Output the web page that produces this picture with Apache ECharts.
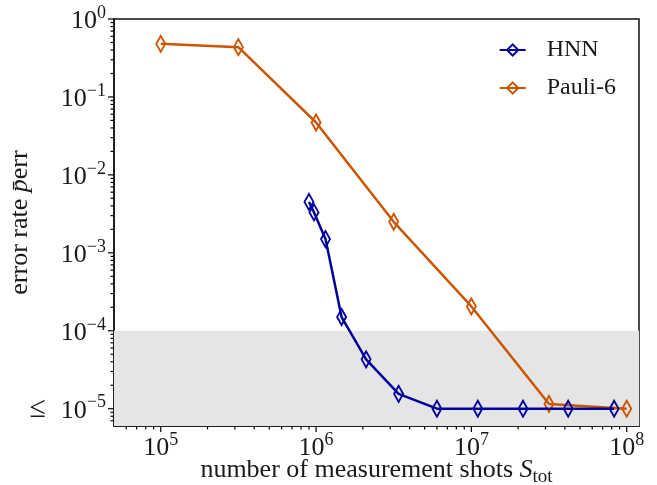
<!DOCTYPE html>
<html>
<head>
<meta charset="utf-8">
<script src="https://cdn.jsdelivr.net/npm/echarts@6/dist/echarts.min.js"></script>
<style>
  * { margin: 0; padding: 0; }
  body { background: #fff; }
  #chart { width: 657px; height: 485px; }
</style>
</head>
<body>
<div id="chart"></div>
<script>
var hnnShots = [9.0e5, 9.7e5, 1.15e6, 1.46e6, 2.1e6, 3.4e6, 6.0e6, 1.1e7, 2.15e7, 4.2e7, 8.3e7];
var hnnErr = [4.5e-3, 3.3e-3, 1.5e-3, 1.5e-4, 4.3e-5, 1.55e-5, 1e-5, 1e-5, 1e-5, 1e-5, 1e-5];
var pauliShots = [1e5, 3.16e5, 1e6, 3.16e6, 1e7, 3.16e7, 1e8];
var pauliErr = [0.48, 0.435, 0.047, 2.5e-3, 2.05e-4, 1.15e-5, 1e-5];

var xMin = 5e4, xMax = 1.2e8;
var yMin = 6e-6, yMax = 1;
var threshold = 1e-4;

var HNN_COLOR = '#00009c';
var PAULI_COLOR = '#cc5500';
var FONT = '"Liberation Serif", "DejaVu Serif", serif';
var TXT = '#1a1a1a';

function zip(a, b) {
  var out = [];
  for (var i = 0; i < a.length; i++) out.push([a[i], b[i]]);
  return out;
}

// minor ticks at 2..9 x 10^k, kept inside the axis range
function minorTicks(lo, hi) {
  var out = [];
  for (var e = Math.floor(Math.log10(lo)); e <= Math.ceil(Math.log10(hi)); e++) {
    for (var k = 2; k <= 9; k++) {
      var v = k * Math.pow(10, e);
      if (v > lo && v < hi) out.push(v);
    }
  }
  return out;
}
function majorTicks(lo, hi) {
  var out = [];
  for (var e = Math.ceil(Math.log10(lo)); e <= Math.floor(Math.log10(hi)); e++) {
    out.push(Math.pow(10, e));
  }
  return out;
}

var supRich = {
  b: { fontFamily: FONT, fontSize: 26, color: TXT, lineHeight: 30, verticalAlign: 'bottom' },
  le: { fontFamily: FONT, fontSize: 30, color: TXT, lineHeight: 30, verticalAlign: 'bottom' },
  s: { fontFamily: FONT, fontSize: 18, color: TXT, lineHeight: 16, verticalAlign: 'top' }
};

function expLabel(v) {
  var e = Math.round(Math.log10(v));
  var s = e < 0 ? '\u2212' + (-e) : '' + e;
  var pre = e === -5 ? '{le|\u2264  }' : '';
  return pre + '{b|10}{s|' + s + '}';
}

// tick marks drawn through the axes' own scales
function xTickSeries(vals, len) {
  return {
    type: 'custom', silent: true, z: 10, clip: false,
    encode: { x: 0, y: 1 },
    data: vals.map(function (v) { return [v, yMin]; }),
    renderItem: function (params, api) {
      var p = api.coord([api.value(0), yMin]);
      return { type: 'line', shape: { x1: p[0], y1: p[1], x2: p[0], y2: p[1] + len },
        style: { stroke: '#000', lineWidth: 1.2 } };
    }
  };
}
function yTickSeries(vals, len) {
  return {
    type: 'custom', silent: true, z: 10, clip: false,
    encode: { x: 0, y: 1 },
    data: vals.map(function (v) { return [xMin, v]; }),
    renderItem: function (params, api) {
      var p = api.coord([xMin, api.value(1)]);
      return { type: 'line', shape: { x1: p[0], y1: p[1], x2: p[0] - len, y2: p[1] },
        style: { stroke: '#000', lineWidth: 1.2 } };
    }
  };
}

var chart = echarts.init(document.getElementById('chart'));
chart.setOption({
  animation: false,
  backgroundColor: '#fff',
  grid: {
    left: 114, right: 18, top: 19, bottom: 59,
    containLabel: false, outerBoundsMode: 'none',
    show: true, borderColor: '#111', borderWidth: 1.5, backgroundColor: 'transparent'
  },
  legend: {
    data: ['HNN', 'Pauli-6'],
    orient: 'vertical',
    right: 36, top: 33,
    itemWidth: 26, itemHeight: 14, itemGap: 14,
    textStyle: { fontFamily: FONT, fontSize: 24, color: TXT, padding: [0, 0, 0, 16] }
  },
  xAxis: {
    type: 'log', min: xMin, max: xMax, logBase: 10,
    name: '{n|number of measurement shots }{i|S}{u|tot}',
    nameLocation: 'middle', nameGap: 31, nameMoveOverlap: false,
    nameTextStyle: {
      rich: {
        n: { fontFamily: FONT, fontSize: 26, color: TXT, lineHeight: 30, verticalAlign: 'top' },
        i: { fontFamily: FONT, fontSize: 26, fontStyle: 'italic', color: TXT, lineHeight: 30, verticalAlign: 'top' },
        u: { fontFamily: FONT, fontSize: 19, color: TXT, lineHeight: 19, verticalAlign: 'bottom' }
      }
    },
    axisLine: { show: true, onZero: false, lineStyle: { color: '#111', width: 1.5 } },
    axisTick: { show: false },
    splitLine: { show: false },
    axisLabel: {
      margin: 5, showMinLabel: false, showMaxLabel: false,
      formatter: expLabel, rich: supRich
    }
  },
  yAxis: {
    type: 'log', min: yMin, max: yMax, logBase: 10,
    name: '{t|error rate }{p|p\u0304}{t|err}',
    nameLocation: 'middle', nameGap: 81, nameRotate: 90, nameMoveOverlap: false,
    nameTextStyle: {
      rich: {
        t: { fontFamily: FONT, fontSize: 26, color: TXT },
        p: { fontFamily: FONT, fontSize: 26, fontStyle: 'italic', color: TXT }
      }
    },
    axisLine: { show: true, onZero: false, lineStyle: { color: '#111', width: 1.5 } },
    axisTick: { show: false },
    splitLine: { show: false },
    axisLabel: {
      margin: 8, showMinLabel: false,
      formatter: expLabel, rich: supRich
    }
  },
  series: [
    {
      name: 'HNN', type: 'line', z: 3,
      data: zip(hnnShots, hnnErr),
      symbol: 'diamond', symbolSize: [9, 16],
      lineStyle: { color: HNN_COLOR, width: 2.5 },
      itemStyle: { color: 'rgba(0,0,0,0)', borderColor: HNN_COLOR, borderWidth: 2 },
      markArea: {
        silent: true,
        itemStyle: { color: '#e5e5e5' },
        data: [[{ yAxis: threshold }, { yAxis: yMin }]]
      }
    },
    {
      name: 'Pauli-6', type: 'line', z: 2,
      data: zip(pauliShots, pauliErr),
      symbol: 'diamond', symbolSize: [9, 16],
      lineStyle: { color: PAULI_COLOR, width: 2.5 },
      itemStyle: { color: 'rgba(0,0,0,0)', borderColor: PAULI_COLOR, borderWidth: 2 }
    },
    xTickSeries(majorTicks(xMin, xMax), 6),
    xTickSeries(minorTicks(xMin, xMax), 3.5),
    yTickSeries(majorTicks(yMin, yMax), 6),
    yTickSeries(minorTicks(yMin, yMax), 3.5)
  ]
});
</script>
</body>
</html>
